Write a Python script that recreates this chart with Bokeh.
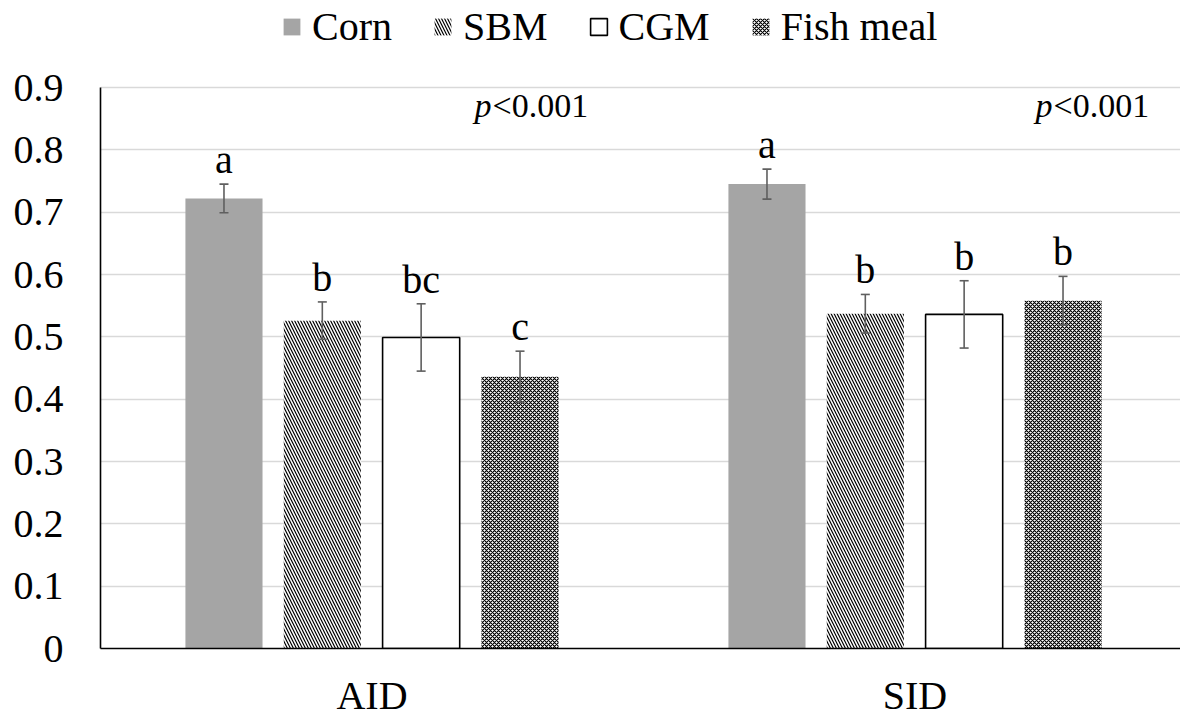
from bokeh.plotting import figure
from bokeh.models import (ColumnDataSource, Range1d, FixedTicker, Whisker, TeeHead,
                          Legend, LegendItem)
from bokeh.core.properties import value
from bokeh.embed import file_html
from bokeh.resources import INLINE

# ---- data ----
groups = ["AID", "SID"]
feeds = ["Corn", "SBM", "CGM", "Fish meal"]
corn = [0.722, 0.745]
sbm = [0.526, 0.537]
cgm = [0.499, 0.536]
fish = [0.436, 0.558]
corn_se = [0.023, 0.024]
sbm_se = [0.030, 0.031]
cgm_se = [0.054, 0.054]
fish_se = [0.041, 0.039]
corn_let = ["a", "a"]
sbm_let = ["b", "b"]
cgm_let = ["bc", "b"]
fish_let = ["c", "b"]
p_labels = ["<0.001", "<0.001"]
y_ticks = [0, 0.1, 0.2, 0.3, 0.4, 0.5, 0.6, 0.7, 0.8, 0.9]
y_tick_labels = ["0", "0.1", "0.2", "0.3", "0.4", "0.5", "0.6", "0.7", "0.8", "0.9"]
y_max = 0.9

# ---- layout constants ----
offsets = [-0.2726, -0.0915, 0.0905, 0.2726]
bar_w = 0.142
p_pos = [0.722, 1.755]
p_y = 0.842
FONT = "'Liberation Serif', 'Times New Roman', 'DejaVu Serif', serif"
FRAME_H = 648          # frame spans the top of the canvas down to the x axis
TOP_PAD = 87           # pixels above the 0.9 gridline (room for the legend)
y_top = y_max + y_max * TOP_PAD / (FRAME_H - TOP_PAD)

series = [corn, sbm, cgm, fish]
ses = [corn_se, sbm_se, cgm_se, fish_se]
lets = [corn_let, sbm_let, cgm_let, fish_let]

styles = [
    dict(fill_color="#a5a5a5", line_color=None),
    dict(fill_color="white", line_color=None, hatch_pattern="left_diagonal_line",
         hatch_color="black", hatch_scale=6, hatch_weight=1.2),
    dict(fill_color="white", line_color="black", line_width=1.6),
    dict(fill_color="white", line_color=None, hatch_pattern="diagonal_cross",
         hatch_color="black", hatch_scale=4, hatch_weight=1.2),
]

p = figure(width=1180, height=720, output_backend="svg", toolbar_location=None,
           x_range=Range1d(0, 1080 / 543), y_range=Range1d(0, y_top),
           min_border_left=100, min_border_right=0, min_border_top=0,
           min_border_bottom=72)
p.outline_line_color = None
p.background_fill_color = "white"
p.border_fill_color = "white"

items = []
for k in range(4):
    xs = [i + 0.5 + offsets[k] for i in range(len(groups))]
    src = ColumnDataSource(dict(
        x=xs, top=series[k],
        upper=[v + e for v, e in zip(series[k], ses[k])],
        lower=[v - e for v, e in zip(series[k], ses[k])],
        let=lets[k]))
    r = p.vbar(x="x", top="top", width=bar_w, bottom=0, source=src, **styles[k])
    items.append(LegendItem(label=feeds[k], renderers=[r]))
    w = Whisker(base="x", upper="upper", lower="lower", source=src,
                line_color="#5f5f5f", line_width=1.6, level="overlay",
                upper_head=TeeHead(size=9, line_color="#5f5f5f", line_width=1.6),
                lower_head=TeeHead(size=9, line_color="#5f5f5f", line_width=1.6))
    p.add_layout(w)
    p.text(x="x", y="upper", text="let", source=src, text_align="center",
           text_baseline="bottom", y_offset=-2, text_font=value(FONT),
           text_font_size="40px", text_color="black")

# p-value annotations
psrc = ColumnDataSource(dict(x=p_pos, y=[p_y] * len(p_pos), t=p_labels,
                             pp=["p"] * len(p_pos)))
p.text(x="x", y="y", text="pp", source=psrc, text_align="right",
       text_baseline="bottom", text_font=value(FONT), text_font_style="italic",
       text_font_size="34px", text_color="black", x_offset=-1)
p.text(x="x", y="y", text="t", source=psrc, text_align="left",
       text_baseline="bottom", text_font=value(FONT),
       text_font_size="34px", text_color="black")

# axes
p.xaxis.ticker = FixedTicker(ticks=[i + 0.5 for i in range(len(groups))])
p.xaxis.major_label_overrides = {i + 0.5: g for i, g in enumerate(groups)}
p.yaxis.ticker = FixedTicker(ticks=y_ticks)
p.yaxis.major_label_overrides = {t: l for t, l in zip(y_ticks, y_tick_labels)}
p.yaxis.bounds = (0, y_max)
for ax in (p.xaxis[0], p.yaxis[0]):
    ax.axis_line_color = "black"
    ax.axis_line_width = 1.6
    ax.major_tick_line_color = None
    ax.minor_tick_line_color = None
    ax.major_label_text_font = FONT
    ax.major_label_text_font_size = "40px"
    ax.major_label_text_color = "black"
p.xaxis.major_label_standoff = 18
p.yaxis.major_label_standoff = 31
p.xgrid.grid_line_color = None
p.ygrid.grid_line_color = "#d9d9d9"
p.ygrid.grid_line_width = 1.6
p.ygrid.ticker = FixedTicker(ticks=y_ticks)

legend = Legend(items=items, orientation="horizontal", location=(181, 598),
                label_text_font=FONT, label_text_font_size="40px",
                label_text_color="black",
                glyph_width=21, glyph_height=21, label_standoff=10, spacing=40,
                padding=0, margin=0, border_line_color=None,
                background_fill_alpha=0)
p.add_layout(legend, "center")

open("out.html", "w").write(file_html(p, INLINE))
